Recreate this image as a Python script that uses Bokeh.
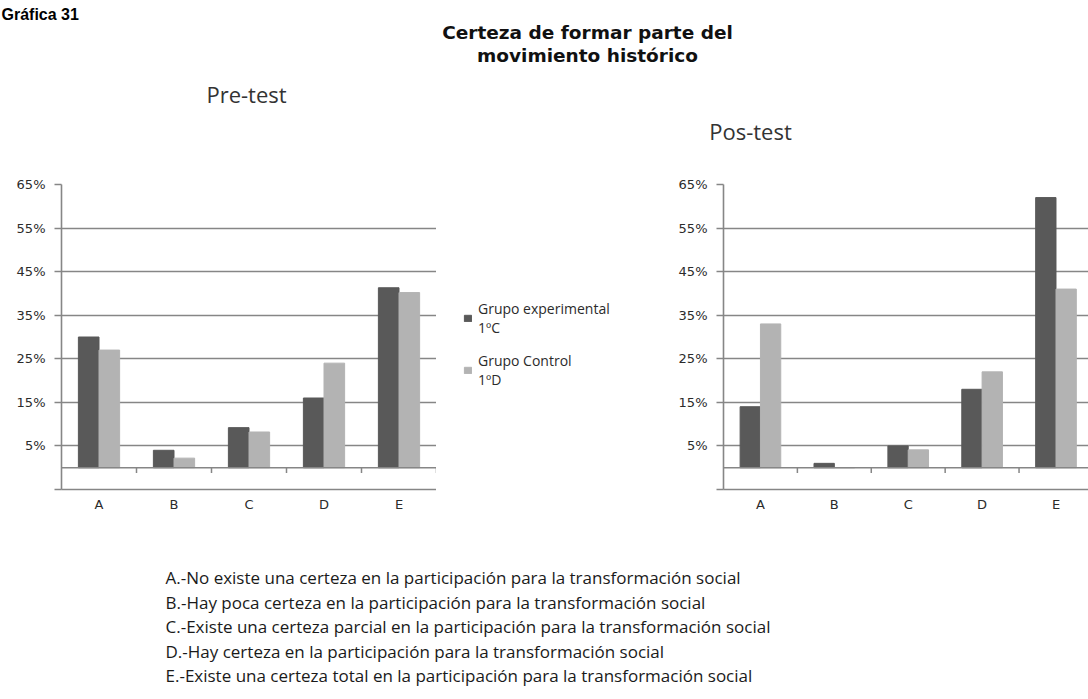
import numpy as np
from bokeh.plotting import figure
from bokeh.models import (Range1d, FixedTicker, Span, Label, Legend, LegendItem,
                          ColumnDataSource)
from bokeh.layouts import column, row
from bokeh.embed import file_html
from bokeh.resources import INLINE
from bokeh.core.properties import value

# ---------------- data ----------------
categorias = ["A", "B", "C", "D", "E"]
pre_experimental = [30, 4, 9.2, 16, 41.3]
pre_control = [27, 2.2, 8.2, 24, 40.2]
pos_experimental = [14, 1, 5, 18, 62]
pos_control = [33, 0, 4.1, 22, 41]
ticks_y = [-5, 5, 15, 25, 35, 45, 55, 65]
series = ["Grupo experimental\n1ºC", "Grupo Control\n1ºD"]
encabezado = "Gráfica 31"
titulo = ["Certeza de formar parte del", "movimiento histórico"]
subtitulos = ["Pre-test", "Pos-test"]
descripciones = [
    "A.-No existe una certeza en la participación  para la transformación social",
    "B.-Hay poca certeza en la participación  para la transformación social",
    "C.-Existe una certeza parcial  en la participación  para la transformación social",
    "D.-Hay certeza en la participación  para la transformación social",
    "E.-Existe una certeza total en la participación  para la transformación social",
]

DARK = "#595959"
LIGHT = "#b3b3b3"
GRAY = "#868686"
TXT = "#2b2b2b"
FONT = "Open Sans"
TICKFONT = "DejaVu Sans"
BW = 0.275


def bar_source(exp, ctl):
    centers = np.arange(len(categorias)) + 0.5
    return ColumnDataSource(dict(xe=centers - BW / 2, xc=centers + BW / 2,
                                 exp=exp, ctl=ctl))


def add_bars(p, src):
    r1 = p.vbar(x="xe", top="exp", bottom=0, width=BW, fill_color=DARK,
                line_color=DARK, source=src)
    r2 = p.vbar(x="xc", top="ctl", bottom=0, width=BW, fill_color=LIGHT,
                line_color=LIGHT, source=src)
    return r1, r2


def make_chart(width, height, exp, ctl, x_end, bl, br, bt, bb):
    p = figure(width=width, height=height, x_range=Range1d(0, x_end),
               y_range=Range1d(-5, 65), output_backend="svg",
               toolbar_location=None, min_border_left=bl, min_border_right=br,
               min_border_top=bt, min_border_bottom=bb)
    p.outline_line_color = None
    n = len(categorias)
    centers = np.arange(n) + 0.5
    src = bar_source(exp, ctl)
    add_bars(p, src)
    # grid
    p.xgrid.visible = False
    p.ygrid.ticker = FixedTicker(ticks=ticks_y)
    p.ygrid.grid_line_color = GRAY
    p.ygrid.grid_line_width = 1.6
    # zero line (category axis) with ticks between categories
    p.add_layout(Span(location=0, dimension="width", line_color=GRAY,
                      line_width=1.6))
    bounds = np.arange(1, n + 1)
    p.segment(x0=bounds, x1=bounds, y0=[0] * n, y1=[-1.2] * n,
              line_color=GRAY, line_width=1.5)
    # y axis
    ax = p.yaxis[0]
    ax.ticker = FixedTicker(ticks=ticks_y)
    ax.major_label_overrides = {t: (f"{t}%" if t > 0 else "") for t in ticks_y}
    ax.axis_line_color = GRAY
    ax.axis_line_width = 1.6
    ax.major_tick_line_color = GRAY
    ax.major_tick_line_width = 1.6
    ax.major_tick_out = 7
    ax.major_tick_in = 0
    ax.minor_tick_line_color = None
    ax.major_label_standoff = 9
    ax.major_label_text_font = TICKFONT
    ax.major_label_text_font_size = "13px"
    ax.major_label_text_color = TXT
    # x axis (labels at bottom)
    xa = p.xaxis[0]
    xa.ticker = FixedTicker(ticks=list(centers))
    xa.major_label_overrides = {float(c): k for c, k in zip(centers, categorias)}
    xa.axis_line_color = GRAY
    xa.axis_line_width = 1.6
    xa.major_tick_line_color = None
    xa.minor_tick_line_color = None
    xa.major_label_standoff = 1
    xa.major_label_text_font = TICKFONT
    xa.major_label_text_font_size = "13px"
    xa.major_label_text_color = TXT
    return p


# ---------------- top text figure ----------------
top = figure(width=1088, height=170, x_range=Range1d(0, 1088),
             y_range=Range1d(170, 0), output_backend="svg",
             toolbar_location=None, x_axis_type=None, y_axis_type=None,
             min_border=0)
top.outline_line_color = None
top.grid.visible = False
top.add_layout(Label(x=1, y=14, text=encabezado, text_align="left",
                     text_baseline="alphabetic", text_font="Liberation Sans",
                     text_font_style="bold", text_font_size="16px",
                     text_color="#000000"))
for i, t in enumerate(titulo):
    top.add_layout(Label(x=587, y=32 + 23 * i, text=t, text_align="center",
                         text_baseline="middle", text_font="DejaVu Sans",
                         text_font_style="bold", text_font_size="18.5px",
                         text_color="#111111"))
top.add_layout(Label(x=246, y=93, text=subtitulos[0], text_align="center",
                     text_baseline="middle", text_font=FONT,
                     text_font_size="22px", text_color="#333333"))
top.add_layout(Label(x=750, y=130, text=subtitulos[1], text_align="center",
                     text_baseline="middle", text_font=FONT,
                     text_font_size="22px", text_color="#333333"))

# ---------------- charts ----------------
left = make_chart(436, 350, pre_experimental, pre_control, 5, 61, 0, 14, 27)
right = make_chart(448, 350, pos_experimental, pos_control, 4.94, 83, 0, 14, 31)

# legend panel (its own figure; the bars sit outside its visible range)
leg_fig = figure(width=204, height=350, x_range=Range1d(-10, -9),
                 y_range=Range1d(-10, -9), output_backend="svg",
                 toolbar_location=None, x_axis_type=None, y_axis_type=None,
                 min_border=0)
leg_fig.outline_line_color = None
leg_fig.grid.visible = False
lr1, lr2 = add_bars(leg_fig, bar_source(pre_experimental, pre_control))
legend = Legend(items=[LegendItem(label=series[0], renderers=[lr1]),
                       LegendItem(label=series[1], renderers=[lr2])],
                location=(27, 100), orientation="vertical")
legend.border_line_color = None
legend.background_fill_alpha = 0
legend.label_text_font = FONT
legend.label_text_font_size = "14px"
legend.label_text_color = TXT
legend.label_text_line_height = 1.2
legend.glyph_width = 9
legend.glyph_height = 8
legend.label_standoff = 6
legend.spacing = 14
legend.padding = 0
legend.margin = 0
leg_fig.add_layout(legend, "center")

# ---------------- bottom text figure ----------------
bottom = figure(width=1088, height=179, x_range=Range1d(0, 1088),
                y_range=Range1d(699, 520), output_backend="svg",
                toolbar_location=None, x_axis_type=None, y_axis_type=None,
                min_border=0)
bottom.outline_line_color = None
bottom.grid.visible = False
ys = [577 + 24.5 * i for i in range(len(descripciones))]
bottom.text(x=[165] * len(descripciones), y=ys, text=descripciones,
            text_font=value(FONT), text_font_size="17px", text_color="#1a1a1a",
            text_baseline="middle", text_align="left")

layout = column(top, row(left, leg_fig, right), bottom)
open("out.html", "w").write(file_html(layout, INLINE))
